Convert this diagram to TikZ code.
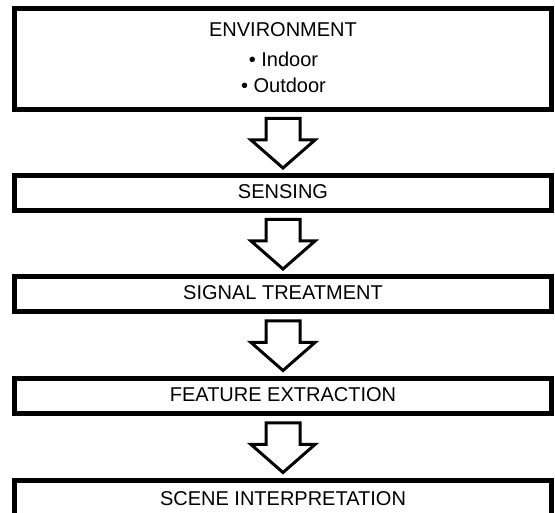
\documentclass[tikz,border=0pt]{standalone}
\usepackage{fontspec}
\setmainfont{Liberation Sans}
\usetikzlibrary{calc}
\tikzset{
  stagebox/.style={draw=black, line width=5pt, fill=white, minimum width=537pt, minimum height=35pt, inner sep=0pt, text height=14.3pt, text depth=4pt, font=\fontsize{20}{24}\selectfont},
  boxtext/.style={inner sep=0pt, anchor=base, font=\fontsize{20}{24}\selectfont},
  blockarrow/.style={draw=black, line width=3pt, fill=white, line join=miter}
}
\newcommand{\flowarrow}[1]{%
  \draw[blockarrow] ($(#1.south)+(-17,6.5)$) -- ($(#1.south)+(-17,28)$) -- ($(#1.south)+(-32,28)$) -- ($(#1.south)+(0,56)$) -- ($(#1.south)+(32,28)$) -- ($(#1.south)+(17,28)$) -- ($(#1.south)+(17,6.5)$) -- cycle;}
\begin{document}
\begin{tikzpicture}[x=1pt, y=-1pt]
\clip (0,0) rectangle (555,513);
\fill[white] (0,0) rectangle (555,513);
\node[stagebox, minimum height=101pt] (env) at (283,59) {};
\node[boxtext] (envtitle) at (283,37) {ENVIRONMENT};
\node[boxtext] (indoor) at (283.5,67) {• Indoor};
\node[boxtext] (outdoor) at (283.5,93) {• Outdoor};
\node[stagebox] (sens) at (283,193) {SENSING};
\node[stagebox] (sig) at (283,294.5) {SIGNAL TREATMENT};
\node[stagebox] (feat) at (283,396.5) {FEATURE EXTRACTION};
\node[stagebox, text depth=0pt] (scene) at (283,498) {SCENE INTERPRETATION};
\flowarrow{env}
\flowarrow{sens}
\flowarrow{sig}
\flowarrow{feat}
\end{tikzpicture}
\end{document}
